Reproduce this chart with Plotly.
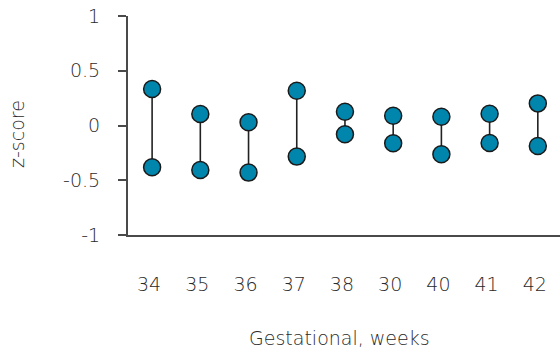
import plotly.graph_objects as go

weeks = ["34", "35", "36", "37", "38", "30", "40", "41", "42"]
upper = [0.333, 0.105, 0.03, 0.317, 0.126, 0.089, 0.08, 0.108, 0.202]
lower = [-0.381, -0.406, -0.43, -0.284, -0.08, -0.162, -0.263, -0.16, -0.187]
y_ticks = [-1, -0.5, 0, 0.5, 1]
y_ticktext = ["-1", "-0.5", "0", "0.5", "1"]

FONT = "DejaVu Sans"
TXT = "#2a2a2a"
AX = "#4a4a4a"
MARK = "#0085AD"

W, H = 560, 350
L, R, T, B = 128, 0, 16, 115
PW, PH = W - L - R, H - T - B


def px_to_paper(px, py):
    return (px - L) / PW, (H - B - py) / PH


lx, ly = [], []
for w, u, l in zip(weeks, upper, lower):
    lx += [w, w, None]
    ly += [u, l, None]

fig = go.Figure()
fig.add_trace(go.Scatter(x=lx, y=ly, mode="lines",
                         line=dict(color="#222222", width=1.6),
                         hoverinfo="skip", showlegend=False))
fig.add_trace(go.Scatter(x=weeks + weeks, y=upper + lower, mode="markers",
                         marker=dict(size=17, color=MARK,
                                     line=dict(color="#1a1a1a", width=1.5)),
                         showlegend=False))

xt_x, xt_y = px_to_paper(339, 338)
yt_x, yt_y = px_to_paper(17, 134)

tf = dict(family=FONT, size=19, color=TXT, weight=200)

fig.update_layout(
    width=W, height=H,
    margin=dict(l=L, r=R, t=T, b=B),
    plot_bgcolor="white", paper_bgcolor="white",
    font=tf,
    xaxis=dict(type="category", categoryorder="array", categoryarray=weeks,
               range=[-0.5, 8.46], showgrid=False, zeroline=False,
               showline=True, linecolor=AX, linewidth=2,
               ticks="", ticklabelstandoff=31, ticklabelshift=-3,
               tickfont=tf),
    yaxis=dict(range=[-1, 1], tickvals=y_ticks, ticktext=y_ticktext,
               showgrid=False, zeroline=False,
               showline=True, linecolor=AX, linewidth=2,
               ticks="outside", ticklen=8, tickwidth=2, tickcolor=AX,
               ticklabelstandoff=14,
               tickfont=tf),
    annotations=[
        dict(text="Gestational, weeks", x=xt_x, y=xt_y, xref="paper", yref="paper",
             xanchor="center", yanchor="middle", showarrow=False, font=tf),
        dict(text="z-score", x=yt_x, y=yt_y, xref="paper", yref="paper",
             xanchor="center", yanchor="middle", textangle=-90, showarrow=False,
             font=tf),
    ],
)

fig.write_html("out.html")
